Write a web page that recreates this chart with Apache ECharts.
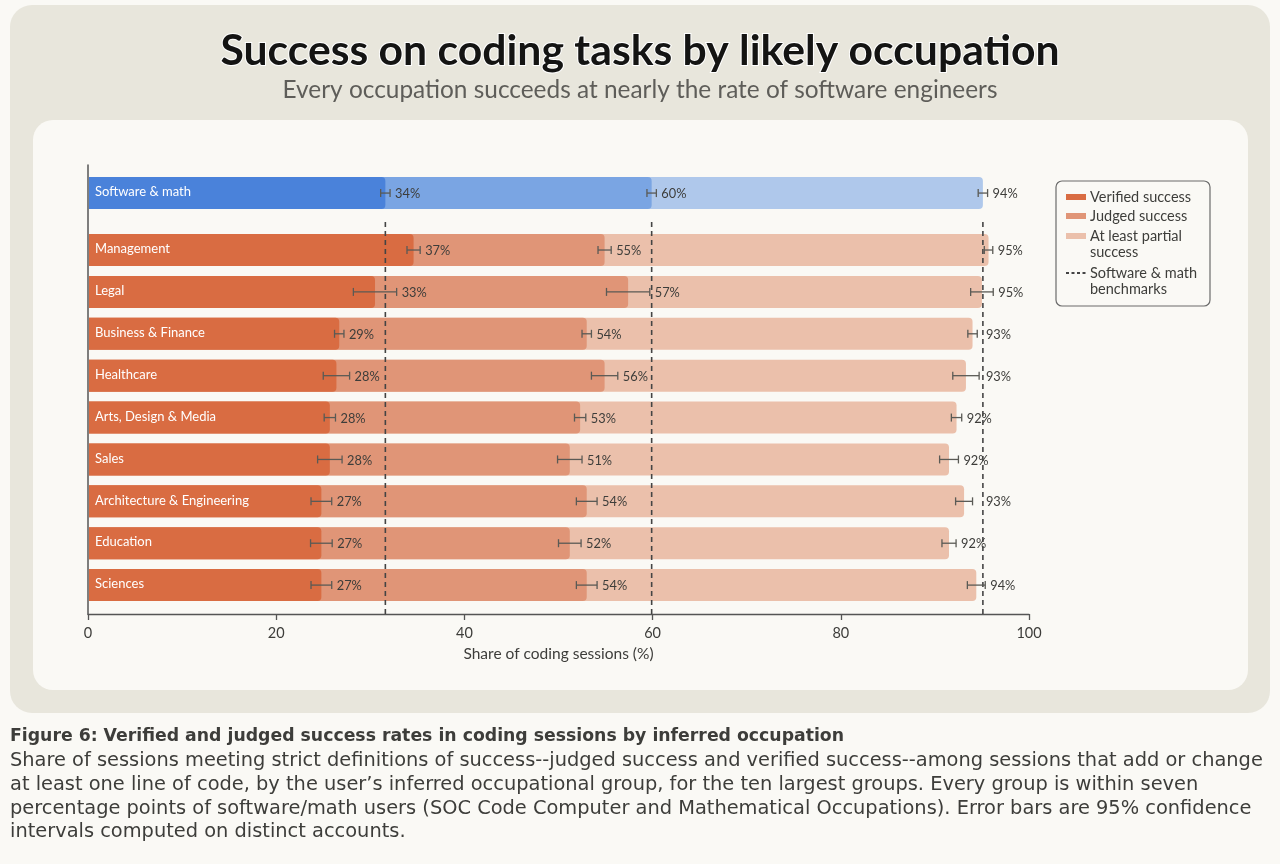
<!DOCTYPE html>
<html>
<head>
<meta charset="utf-8" />
<title>Success on coding tasks by likely occupation</title>
<script src="https://cdn.jsdelivr.net/npm/echarts@6/dist/echarts.min.js"></script>
<style>
  html, body { margin: 0; padding: 0; background: #FAF9F5; }
  #main { width: 1280px; height: 864px; }
</style>
</head>
<body>
<div id="main"></div>
<script>
// data
var categories = ['Software & math', 'Management', 'Legal', 'Business & Finance', 'Healthcare',
  'Arts, Design & Media', 'Sales', 'Architecture & Engineering', 'Education', 'Sciences'];
var verified = [31.6, 34.6, 30.5, 26.7, 26.4, 25.7, 25.7, 24.8, 24.8, 24.8];
var judged = [59.9, 54.9, 57.4, 53.0, 54.9, 52.3, 51.2, 53.0, 51.2, 53.0];
var partial = [95.1, 95.7, 95.0, 94.0, 93.3, 92.3, 91.5, 93.1, 91.5, 94.4];
var verifiedErr = [0.5, 0.7, 2.3, 0.5, 1.4, 0.6, 1.3, 1.1, 1.15, 1.1];
var judgedErr = [0.5, 0.7, 2.3, 0.5, 1.4, 0.6, 1.3, 1.1, 1.2, 1.1];
var partialErr = [0.5, 0.45, 1.2, 0.5, 1.4, 0.55, 1.0, 0.9, 0.75, 0.95];
var verifiedPct = [34, 37, 33, 29, 28, 28, 28, 27, 27, 27];
var judgedPct = [60, 55, 57, 54, 56, 53, 51, 54, 52, 54];
var partialPct = [94, 95, 95, 93, 93, 92, 92, 93, 92, 94];

var FONT = 'Lato';
var blue = ['#4A82DA', '#7AA5E3', '#AFC8EB'];
var orange = ['#D96C42', '#E09577', '#EBC0AB'];

// software row sits apart from the others
function rowPos(i) {
  return i === 0 ? 0 : i + 0.36;
}

var benchmarks = [verified[0], judged[0], partial[0]];

function barSeries(name, values, level, withNames) {
  return {
    type: 'custom',
    name: name,
    z: 5 - level,
    data: values.map(function (v, i) { return [v, rowPos(i), i]; }),
    encode: { x: 0, y: 1 },
    renderItem: function (params, api) {
      var i = api.value(2);
      var p0 = api.coord([0, api.value(1)]);
      var p1 = api.coord([api.value(0), api.value(1)]);
      var children = [{
        type: 'rect',
        shape: { x: p0[0] + 1, y: p0[1] - 16, width: p1[0] - p0[0] - 1, height: 32, r: [0, 4, 4, 0] },
        style: { fill: (i === 0 ? blue : orange)[level] }
      }];
      if (withNames) {
        children.push({
          type: 'text',
          style: {
            text: categories[i], x: p0[0] + 7, y: p0[1] - 1,
            verticalAlign: 'middle', fill: '#fff', fontSize: 13, fontFamily: FONT
          }
        });
      }
      return { type: 'group', children: children };
    }
  };
}

function errSeries(values, errs, pcts, bIdx) {
  return {
    type: 'custom',
    z: 10,
    data: values.map(function (v, i) { return [v, rowPos(i), i, errs[i], pcts[i]]; }),
    encode: { x: 0, y: 1 },
    renderItem: function (params, api) {
      var v = api.value(0), y = api.value(1), e = api.value(3);
      var lo = api.coord([v - e, y]);
      var hi = api.coord([v + e, y]);
      var st = { stroke: '#5a5a55', lineWidth: 1.3 };
      var lx = hi[0] + 5;
      // nudge labels that would sit on a benchmark line
      if (api.value(2) > 0) {
        var bx = api.coord([benchmarks[bIdx], y])[0];
        if (lx > bx - 14 && lx < bx + 3) lx = bx + 3;
      }
      return {
        type: 'group',
        children: [
          { type: 'line', shape: { x1: lo[0], y1: lo[1], x2: hi[0], y2: hi[1] }, style: st },
          { type: 'line', shape: { x1: lo[0], y1: lo[1] - 4, x2: lo[0], y2: lo[1] + 4 }, style: st },
          { type: 'line', shape: { x1: hi[0], y1: hi[1] - 4, x2: hi[0], y2: hi[1] + 4 }, style: st },
          {
            type: 'text',
            style: {
              text: api.value(4) + '%', x: lx, y: lo[1] + 1, verticalAlign: 'middle',
              fill: '#3d3d3a', fontSize: 12.8, fontFamily: FONT
            }
          }
        ]
      };
    }
  };
}

var benchSeries = {
  type: 'custom',
  z: 9,
  data: benchmarks.map(function (b) { return [b, 0.69]; }),
  encode: { x: 0, y: 1 },
  renderItem: function (params, api) {
    var top = api.coord([api.value(0), api.value(1)]);
    var bottom = api.coord([api.value(0), 10.05]);
    return {
      type: 'line',
      shape: { x1: top[0], y1: top[1], x2: bottom[0], y2: bottom[1] },
      style: { stroke: '#444', lineWidth: 1.6, lineDash: [5, 4] }
    };
  }
};

var captionLines = [
  'Share of sessions meeting strict definitions of success--judged success and verified success--among sessions that add or change',
  'at least one line of code, by the user\u2019s inferred occupational group, for the ten largest groups. Every group is within seven',
  'percentage points of software/math users (SOC Code Computer and Mathematical Occupations). Error bars are 95% confidence',
  'intervals computed on distinct accounts.'
];

var graphics = [
  { type: 'rect', z: -2, shape: { x: 10, y: 5, width: 1260, height: 708, r: 22 }, style: { fill: '#E8E6DC' } },
  { type: 'rect', z: -1, shape: { x: 33, y: 120, width: 1215, height: 570, r: 20 }, style: { fill: '#FAF9F5' } },
  // legend
  { type: 'rect', z: 20, shape: { x: 1056, y: 181, width: 154, height: 125, r: 6 }, style: { fill: '#FAF9F5', stroke: '#6b6b6b', lineWidth: 1.2 } },
  { type: 'rect', z: 21, shape: { x: 1066, y: 194, width: 20, height: 6 }, style: { fill: orange[0] } },
  { type: 'rect', z: 21, shape: { x: 1066, y: 213, width: 20, height: 6 }, style: { fill: orange[1] } },
  { type: 'rect', z: 21, shape: { x: 1066, y: 233, width: 20, height: 6 }, style: { fill: orange[2] } },
  { type: 'line', z: 21, shape: { x1: 1066, y1: 273, x2: 1086, y2: 273 }, style: { stroke: '#444', lineWidth: 2, lineDash: [3, 2.5] } }
];
[['Verified success', 197], ['Judged success', 216], ['At least partial', 236], ['success', 252],
 ['Software & math', 273], ['benchmarks', 289]].forEach(function (t) {
  graphics.push({ type: 'text', z: 21, style: { text: t[0], x: 1090, y: t[1], verticalAlign: 'middle', fill: '#3d3d3a', fontSize: 14.5, fontFamily: FONT } });
});
// caption under the panel
graphics.push({ type: 'text', style: { text: 'Figure 6: Verified and judged success rates in coding sessions by inferred occupation', x: 10, y: 737, verticalAlign: 'middle', fill: '#3d3d3a', fontSize: 17.3, fontWeight: 'bold', fontFamily: 'DejaVu Sans' } });
captionLines.forEach(function (l, k) {
  graphics.push({ type: 'text', style: { text: l, x: 10, y: 761 + k * 23.8, verticalAlign: 'middle', fill: '#3d3d3a', fontSize: 19.4, fontFamily: 'DejaVu Sans' } });
});

var chart = echarts.init(document.getElementById('main'));
chart.setOption({
  animation: false,
  backgroundColor: '#FAF9F5',
  title: {
    text: 'Success on coding tasks by likely occupation',
    subtext: 'Every occupation succeeds at nearly the rate of software engineers',
    left: 'center',
    top: 25,
    itemGap: 3,
    textStyle: { fontFamily: FONT, fontSize: 42.7, fontWeight: 'bold', color: '#141413', textBorderColor: '#fff', textBorderWidth: 2 },
    subtextStyle: { fontFamily: FONT, fontSize: 24.4, color: '#5e5d59' }
  },
  graphic: graphics,
  grid: { left: 88, right: 251, top: 165, bottom: 250 },
  xAxis: {
    type: 'value', min: 0, max: 100, interval: 20,
    name: 'Share of coding sessions (%)', nameLocation: 'middle', nameGap: 27,
    nameTextStyle: { fontFamily: FONT, fontSize: 15.5, color: '#3d3d3a' },
    axisLine: { show: true, onZero: false, lineStyle: { color: '#555', width: 1.3 } },
    axisTick: { show: true, length: 6, lineStyle: { color: '#555', width: 1.3 } },
    axisLabel: { fontFamily: FONT, fontSize: 14.5, color: '#3d3d3a', margin: 12 },
    splitLine: { show: false }
  },
  yAxis: {
    type: 'value', inverse: true, min: -0.67, max: 10.05,
    axisLine: { show: true, onZero: false, lineStyle: { color: '#555', width: 1.5 } },
    axisTick: { show: false }, axisLabel: { show: false }, splitLine: { show: false }
  },
  series: [
    barSeries('At least partial success', partial, 2, false),
    barSeries('Judged success', judged, 1, false),
    barSeries('Verified success', verified, 0, true),
    benchSeries,
    errSeries(verified, verifiedErr, verifiedPct, 0),
    errSeries(judged, judgedErr, judgedPct, 1),
    errSeries(partial, partialErr, partialPct, 2)
  ]
});
window.onresize = function () { chart.resize(); };
</script>
</body>
</html>
